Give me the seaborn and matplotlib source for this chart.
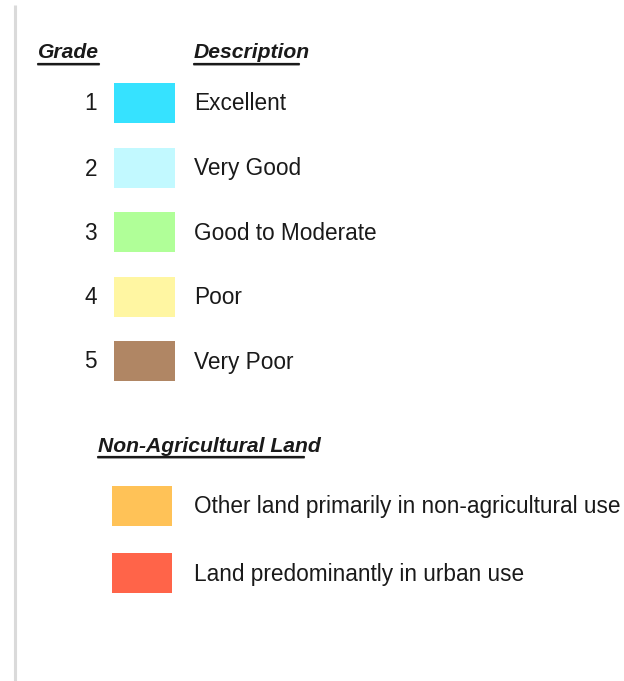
import matplotlib.pyplot as plt
import seaborn as sns

# legend content
grades = ["1", "2", "3", "4", "5"]
grade_desc = ["Excellent", "Very Good", "Good to Moderate", "Poor", "Very Poor"]
grade_colors = ["#36e2ff", "#c2f9ff", "#b0ff98", "#fff6a2", "#b08664"]

nonag_desc = ["Other land primarily in non-agricultural use",
              "Land predominantly in urban use"]
nonag_colors = ["#ffc257", "#ff6449"]

sns.set_style("white")
plt.rcParams['font.family'] = ['Liberation Sans', 'DejaVu Sans']

fig = plt.figure(figsize=(6.24, 6.81), dpi=100)
ax = fig.add_axes([0, 0, 1, 1])
ax.set_xlim(0, 624)
ax.set_ylim(681, 0)
ax.axis('off')

txt_col = "#1a1a1a"
fs = 16.3
hfs = 15.2

# grey rule on the left
ax.plot([14.5, 14.5], [5, 681], color="#dadada", lw=2.2, solid_capstyle='butt')

# headers (bold italic, underlined); last value = how much the underline falls short
headers = [("Grade", 38, 53, 0), ("Description", 194, 53, 11), ("Non-Agricultural Land", 98, 446, 17)]
hdr_texts = []
for label, x, y, short in headers:
    t = ax.text(x, y, label, fontsize=hfs, fontweight='bold', fontstyle='italic',
                color=txt_col, ha='left', va='center')
    hdr_texts.append((t, short))

# grade rows
row_y = [103, 168, 232, 297, 361]
ax.barh(row_y, width=[61] * len(grades), left=114, height=40, color=grade_colors, linewidth=0)
for g, d, y in zip(grades, grade_desc, row_y):
    ax.text(97, y + 1, g, fontsize=fs, color=txt_col, ha='right', va='center')
    ax.text(194, y + 1, d, fontsize=fs, color=txt_col, ha='left', va='center')

# non-agricultural rows
na_y = [506, 573]
ax.barh(na_y, width=[60] * len(nonag_desc), left=112, height=40, color=nonag_colors, linewidth=0)
for d, y in zip(nonag_desc, na_y):
    ax.text(194, y + 1, d, fontsize=fs, color=txt_col, ha='left', va='center')

# underline headers using their rendered extents
fig.canvas.draw()
renderer = fig.canvas.get_renderer()
inv = ax.transData.inverted()
for t, short in hdr_texts:
    bb = t.get_window_extent(renderer=renderer)
    (x0, _), (x1, _) = inv.transform([(bb.x0, bb.y0), (bb.x1, bb.y1)])
    y = t.get_position()[1] + 10.5
    ax.plot([x0, x1 - short], [y + 1.6, y + 1.6], color="#a8a8a8", lw=1.4)
    ax.plot([x0, x1 - short], [y, y], color=txt_col, lw=1.6)

fig.savefig("out.png", dpi=100)
